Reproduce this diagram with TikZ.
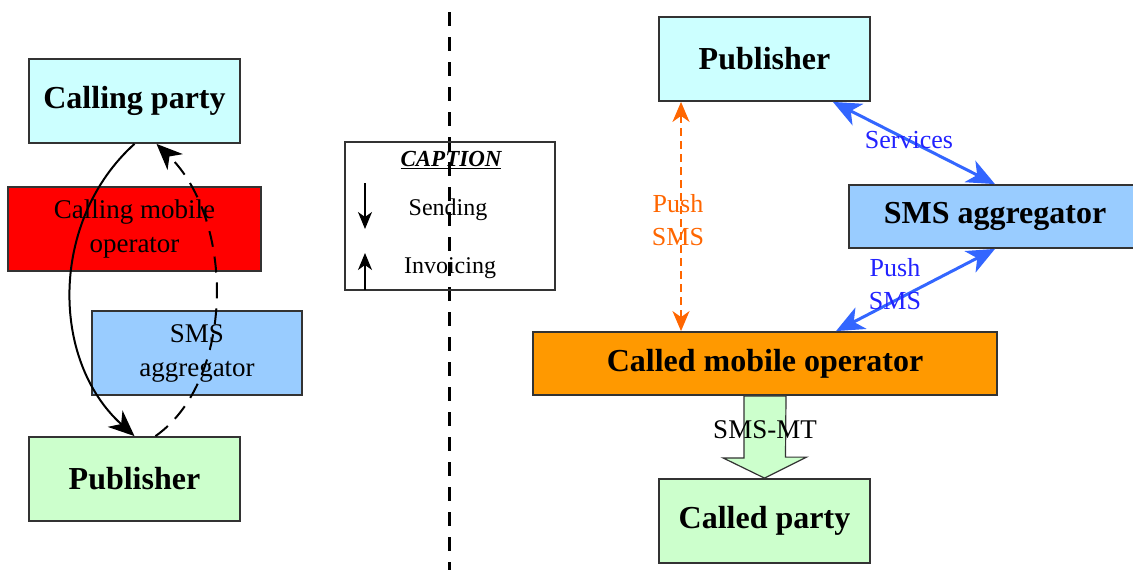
\documentclass[tikz,border=0pt]{standalone}
\usepackage{fontspec}
\setmainfont{Liberation Serif}
\usepackage{tikz}
\usetikzlibrary{arrows.meta}

\definecolor{lcyan}{HTML}{CCFFFF}
\definecolor{lgreen}{HTML}{CCFFCC}
\definecolor{lblue}{HTML}{99CCFF}
\definecolor{opred}{HTML}{FF0000}
\definecolor{oporange}{HTML}{FF9900}
\definecolor{pushorange}{HTML}{FF6600}
\definecolor{linkblue}{HTML}{3366FF}
\definecolor{textblue}{HTML}{2222FF}

\begin{document}
\begin{tikzpicture}[x=1pt,y=-1pt]
  \tikzset{box/.style = {shape=rectangle,draw=black!80,line width=1.8pt,inner sep=0pt,align=center}}
  \tikzset{bigtext/.style = {font=\fontsize{32}{38}\selectfont\bfseries}}
  \tikzset{smalltext/.style = {font=\fontsize{27}{34}\selectfont}}
  \tikzset{send/.style = {-{Stealth[length=26pt,width=22pt,inset=8pt]},line width=2pt}}
  \tikzset{link/.style = {{Stealth[length=28pt,width=24pt,inset=8pt]}-{Stealth[length=28pt,width=24pt,inset=8pt]},line width=3pt,draw=linkblue}}

  \useasboundingbox (0,0) rectangle (1133,570);
  \clip (0,0) rectangle (1133,570);

  % left side
  \node[box,bigtext,fill=lcyan,minimum width=211pt,minimum height=84pt] (callP) at (134.5,101) {Calling party};
  \node[box,smalltext,fill=opred,minimum width=253pt,minimum height=84pt] (callOp) at (134.5,229) {Calling mobile\\operator};
  \node[box,smalltext,fill=lblue,minimum width=210pt,minimum height=84pt] (aggL) at (197,353) {SMS\\aggregator};
  \node[box,bigtext,fill=lgreen,minimum width=211pt,minimum height=84pt] (pubL) at (134.5,479) {Publisher};

  \draw[send] (callP.south) .. controls (50,220) and (50,360) .. (pubL.north);
  \draw[send,dash pattern=on 16pt off 10pt] ([xshift=21pt]pubL.north) .. controls (235,380) and (235,220) .. ([xshift=22pt]callP.south);

  % separator
  \draw[line width=3pt,dash pattern=on 14pt off 11pt] (449,12) -- (449,570);

  % caption
  \node[box,line width=1.2pt,minimum width=210pt,minimum height=148pt] (cap) at (450,216) {};
  \node[font=\fontsize{23}{27}\selectfont\bfseries\itshape] (capT) at (451,160) {\underline{CAPTION}};
  \node[font=\fontsize{24}{28}\selectfont] (sendT) at (448,210) {Sending};
  \node[font=\fontsize{24}{28}\selectfont] (invT) at (450,268) {Invoicing};
  \coordinate (sendA) at (365,183);
  \coordinate (sendB) at (365,229);
  \coordinate (invA) at (365,290);
  \coordinate (invB) at (365,253);
  \draw[-{Stealth[length=17pt,width=14pt,inset=5pt]},line width=1.5pt] (sendA) -- (sendB);
  \draw[-{Stealth[length=17pt,width=14pt,inset=5pt]},line width=1.5pt] (invA) -- (invB);

  % right side
  \node[box,bigtext,fill=lcyan,minimum width=211pt,minimum height=84pt] (pubR) at (764.5,59) {Publisher};
  \node[box,bigtext,fill=lblue,minimum width=292pt,minimum height=63pt] (aggR) at (995,216.5) {SMS aggregator};
  \node[box,bigtext,fill=oporange,minimum width=464pt,minimum height=63pt] (calledOp) at (765,363.5) {Called mobile operator};
  \node[box,bigtext,fill=lgreen,minimum width=211pt,minimum height=84pt] (calledP) at (764.5,521) {Called party};

  % block arrow
  \draw[draw=black!80,line width=1.2pt,fill=lgreen] ([xshift=-21pt]calledOp.south) -- ++(0,62) -- ++(-21,0)
    -- (calledP.north) -- ++(42,-21) -- ++(-21,0) -- ([xshift=21pt]calledOp.south) -- cycle;
  \node[font=\fontsize{27}{32}\selectfont] (mtT) at (765,430) {SMS-MT};

  \draw[link] ([xshift=-38pt]pubR.south east) -- (aggR.north);
  \draw[link] (aggR.south) -- ([xshift=71pt]calledOp.north);
  \draw[line width=1.8pt,draw=pushorange,dash pattern=on 8pt off 5pt,
        {Stealth[length=20pt,width=17pt,inset=6pt]}-{Stealth[length=20pt,width=17pt,inset=6pt]}] ([xshift=-83.5pt]pubR.south) -- ([xshift=-84pt]calledOp.north);

  \node[font=\fontsize{26}{33}\selectfont,text=pushorange,align=center] (pushO) at (678,220) {Push\\SMS};
  \node[font=\fontsize{26}{31}\selectfont,text=textblue] (servT) at (909,140) {Services};
  \node[font=\fontsize{26}{33}\selectfont,text=textblue,align=center] (pushB) at (895,284) {Push\\SMS};
\end{tikzpicture}
\end{document}
